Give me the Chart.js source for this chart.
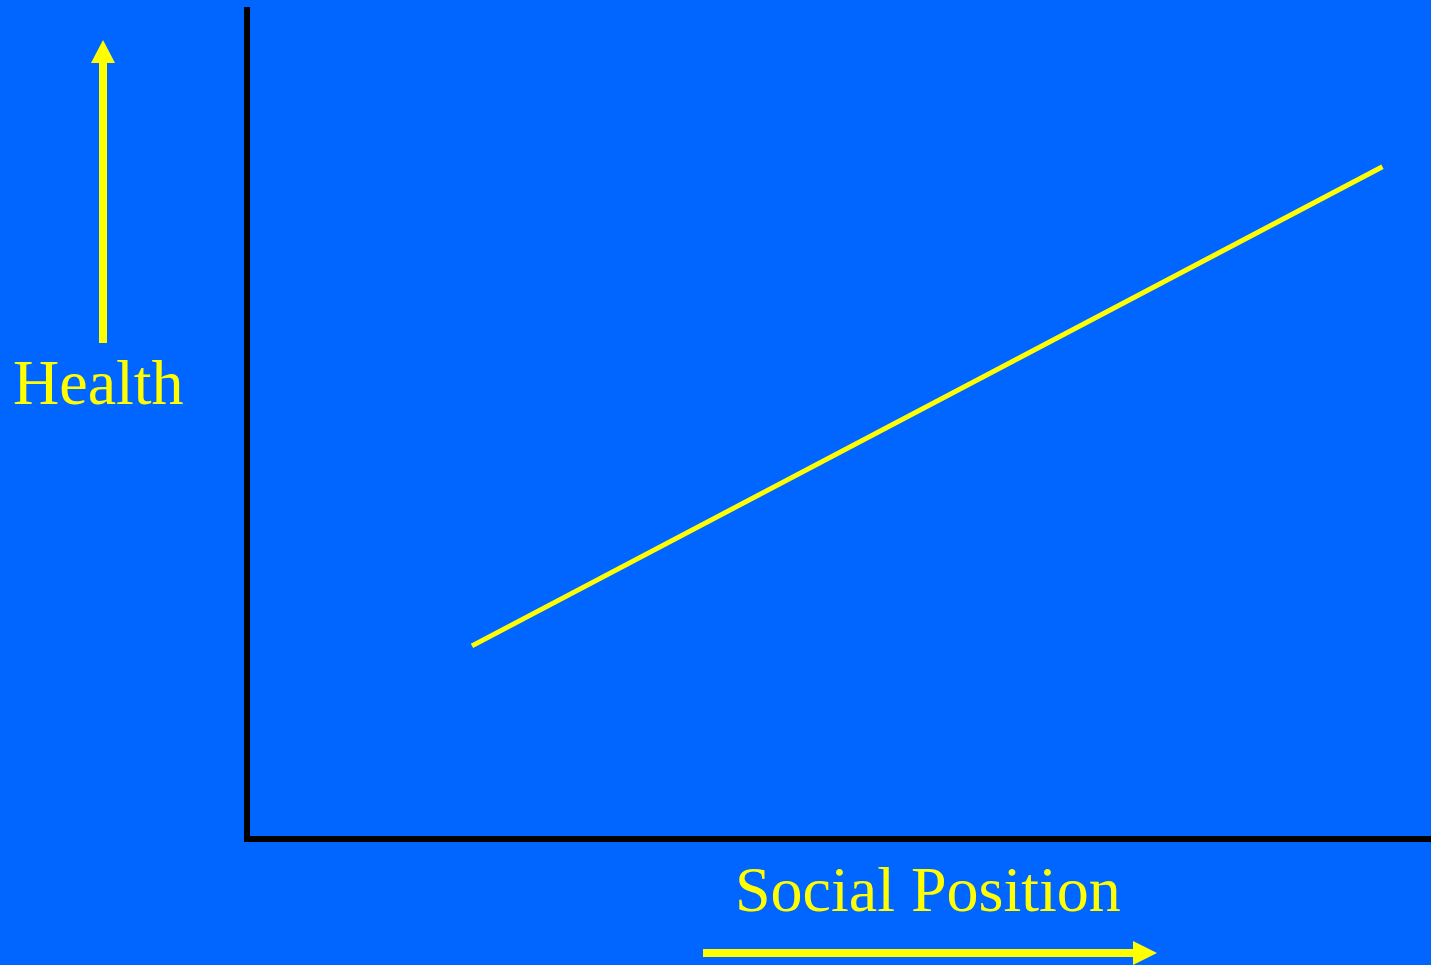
<!DOCTYPE html>
<html>
<head>
<meta charset="utf-8">
<script src="https://cdn.jsdelivr.net/npm/chart.js@4/dist/chart.umd.min.js"></script>
<style>
  html, body { margin: 0; padding: 0; background: #0066ff; overflow: hidden; }
  canvas { display: block; }
</style>
</head>
<body>
<canvas id="chart" width="1431" height="965"></canvas>
<script>
// data: social position (x) vs health (y), 0-100 scale
const positionValues = [19.0, 95.9];
const healthValues = [23.3, 81.1];
const xLabel = "Social Position";
const yLabel = "Health";

const BLUE = "#0066ff";
const YELLOW = "#ffff00";

// background + arrows + labels (slide decoration)
const slideDeco = {
    id: "slideDeco",
    beforeDraw(chart) {
        const ctx = chart.ctx;
        ctx.save();
        ctx.fillStyle = BLUE;
        ctx.fillRect(0, 0, chart.width, chart.height);
        ctx.restore();
    },
    afterDraw(chart) {
        const ctx = chart.ctx;
        ctx.save();
        ctx.fillStyle = YELLOW;

        // up arrow over "Health"
        ctx.fillRect(99, 63, 8, 280);
        ctx.beginPath();
        ctx.moveTo(91, 63);
        ctx.lineTo(115, 63);
        ctx.lineTo(103, 40);
        ctx.closePath();
        ctx.fill();

        // right arrow under "Social Position"
        ctx.fillRect(703, 949, 430, 8);
        ctx.beginPath();
        ctx.moveTo(1133, 941);
        ctx.lineTo(1133, 965);
        ctx.lineTo(1157, 953);
        ctx.closePath();
        ctx.fill();

        ctx.font = '64px "Liberation Serif", "Times New Roman", serif';
        ctx.textBaseline = "alphabetic";
        ctx.textAlign = "left";
        ctx.fillText(yLabel, 13, 404);
        ctx.fillText(xLabel, 735, 911);
        ctx.restore();
    }
};

const points = positionValues.map((x, i) => ({ x: x, y: healthValues[i] }));

new Chart(document.getElementById("chart"), {
    type: "scatter",
    data: {
        datasets: [{
            data: points,
            showLine: true,
            borderColor: YELLOW,
            borderWidth: 5,
            borderCapStyle: "butt",
            pointRadius: 0,
            pointHoverRadius: 0,
            fill: false
        }]
    },
    options: {
        responsive: false,
        devicePixelRatio: 1,
        animation: false,
        layout: { padding: { left: 247, top: 10, right: 0, bottom: 126 } },
        plugins: {
            legend: { display: false },
            tooltip: { enabled: false },
            title: { display: false }
        },
        scales: {
            x: {
                type: "linear",
                min: 0,
                max: 100,
                ticks: { display: false },
                grid: { display: false, drawTicks: false, tickLength: 0 },
                border: { display: true, color: "#000", width: 6 }
            },
            y: {
                type: "linear",
                min: 0,
                max: 100,
                ticks: { display: false },
                grid: { display: false, drawTicks: false, tickLength: 0 },
                border: { display: true, color: "#000", width: 6 }
            }
        }
    },
    plugins: [slideDeco]
});
</script>
</body>
</html>
